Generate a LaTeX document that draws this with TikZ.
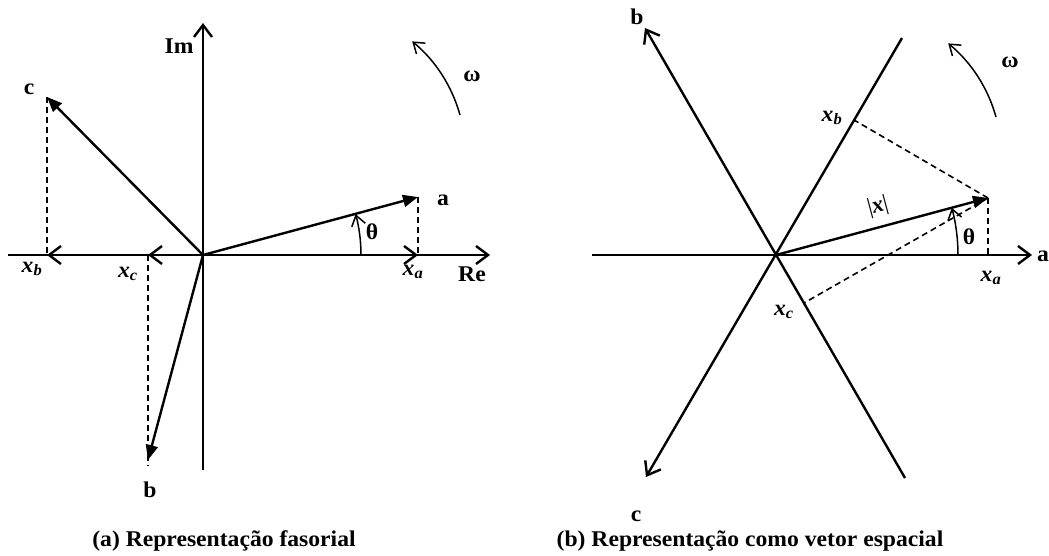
\documentclass[tikz,border=0pt]{standalone}
\usepackage{fontspec}
\setmainfont{Liberation Serif}
\usetikzlibrary{arrows.meta}
\newcommand{\lbl}[1]{\scalebox{1.05}[1]{\fontsize{22.5}{25}\selectfont\bfseries #1}}
\newcommand{\xsub}[1]{\scalebox{1.05}[1]{\fontsize{22.5}{25}\selectfont\bfseries\itshape x\textsubscript{#1}}}
\tikzset{
  axis/.style={line width=2.4pt},
  axarrow/.style={line width=2.4pt, -{Straight Barb[length=12pt,width=18pt]}},
  vec/.style={line width=2.4pt, -{Triangle[length=15pt,width=12pt]}},
  proj/.style={line width=1.6pt, dash pattern=on 6pt off 4pt},
  rot/.style={line width=1.5pt, -{Straight Barb[length=10pt,width=14pt]}},
  lab/.style={inner sep=0pt, anchor=center}
}
\begin{document}
\begin{tikzpicture}[x=1pt,y=-1pt]
\useasboundingbox (0,0) rectangle (1049,556);
% ---------------- left: phasor representation
\coordinate (O1) at (203,255);
\coordinate (L1) at (8,255);
\coordinate (Re) at (490,255);
\coordinate (ImTop) at (203,23);
\coordinate (ImBot) at (203,470);
\coordinate (A1) at (418,197);
\coordinate (XA1) at (418,255);
\coordinate (C1) at (47,97);
\coordinate (XB1) at (47,255);
\coordinate (B1) at (148,460);
\coordinate (XC1) at (148,255);

\draw[axis] (L1) -- (O1);
\draw[axarrow] (O1) -- (Re);
\draw[axarrow] (O1) -- (XA1);
\draw[axarrow] (O1) -- (XB1);
\draw[axarrow] (O1) -- (XC1);
\draw[axarrow] (ImBot) -- (ImTop);

\draw[vec] (O1) -- (A1);
\draw[vec] (O1) -- (C1);
\draw[vec] (O1) -- (B1);

\draw[proj] (A1) -- (XA1);
\draw[proj] (C1) -- (XB1);
\draw[proj] (XC1) -- ([yshift=-6pt]B1);

\draw[rot] (361,255) arc[start angle=0, end angle=-15, radius=158];
\draw[rot] (460,115) arc[start angle=-15.5, end angle=-50.5, radius=146];

\node[lab] (tIm) at (179,46) {\lbl{Im}};
\node[lab] (tc1) at (29,89) {\lbl{c}};
\node[lab] (ta1) at (443,200) {\lbl{a}};
\node[lab] (tth1) at (372,232) {\lbl{θ}};
\node[lab] (tom1) at (472,76) {\lbl{ω}};
\node[lab] (txb1) at (32,269) {\xsub{b}};
\node[lab] (txc1) at (128,274) {\xsub{c}};
\node[lab] (txa1) at (413,272) {\xsub{a}};
\node[lab] (tRe) at (472,274) {\lbl{Re}};
\node[lab] (tb1) at (150,490) {\lbl{b}};
\node[lab] (cap1) at (224,541) {\lbl{(a) Representação fasorial}};

% ---------------- right: space vector representation
\coordinate (O2) at (776,255);
\coordinate (L2) at (592,255);
\coordinate (Ax) at (1032,255);
\coordinate (Btip) at (645,28);
\coordinate (Bend) at (905,478);
\coordinate (Ctip) at (646,477);
\coordinate (Cend) at (902,38);
\coordinate (X) at (988,198);
\coordinate (XA2) at (988,255);
\coordinate (XB2) at (854,120);
\coordinate (XC2) at (804,303);

\draw[axis] (L2) -- (O2);
\draw[axarrow] (O2) -- (Ax);
\draw[axarrow] (Bend) -- (Btip);
\draw[axarrow] (Cend) -- (Ctip);

\draw[vec] (O2) -- (X);
\draw[proj] (X) -- (XA2);
\draw[proj] (X) -- (XB2);
\draw[proj] (X) -- (XC2);

\draw[rot] (958,255) arc[start angle=0, end angle=-15, radius=182];
\draw[rot] (996,117) arc[start angle=-15.5, end angle=-50.5, radius=146];

\node[lab] (tb2) at (637,17) {\lbl{b}};
\node[lab] (txb2) at (832,118) {\xsub{b}};
\node[lab, rotate=15] (tmod) at (878,207) {\fontsize{23}{25}\selectfont|\textbf{\textit{x}}|};
\node[lab] (tth2) at (969,237) {\lbl{θ}};
\node[lab] (ta2) at (1043,256) {\lbl{a}};
\node[lab] (txa2) at (991,278) {\xsub{a}};
\node[lab] (txc2) at (784,312) {\xsub{c}};
\node[lab] (tom2) at (1010,62) {\lbl{ω}};
\node[lab] (tc2) at (636,516) {\lbl{c}};
\node[lab] (cap2) at (750,541) {\lbl{(b) Representação como vetor espacial}};
\end{tikzpicture}
\end{document}
